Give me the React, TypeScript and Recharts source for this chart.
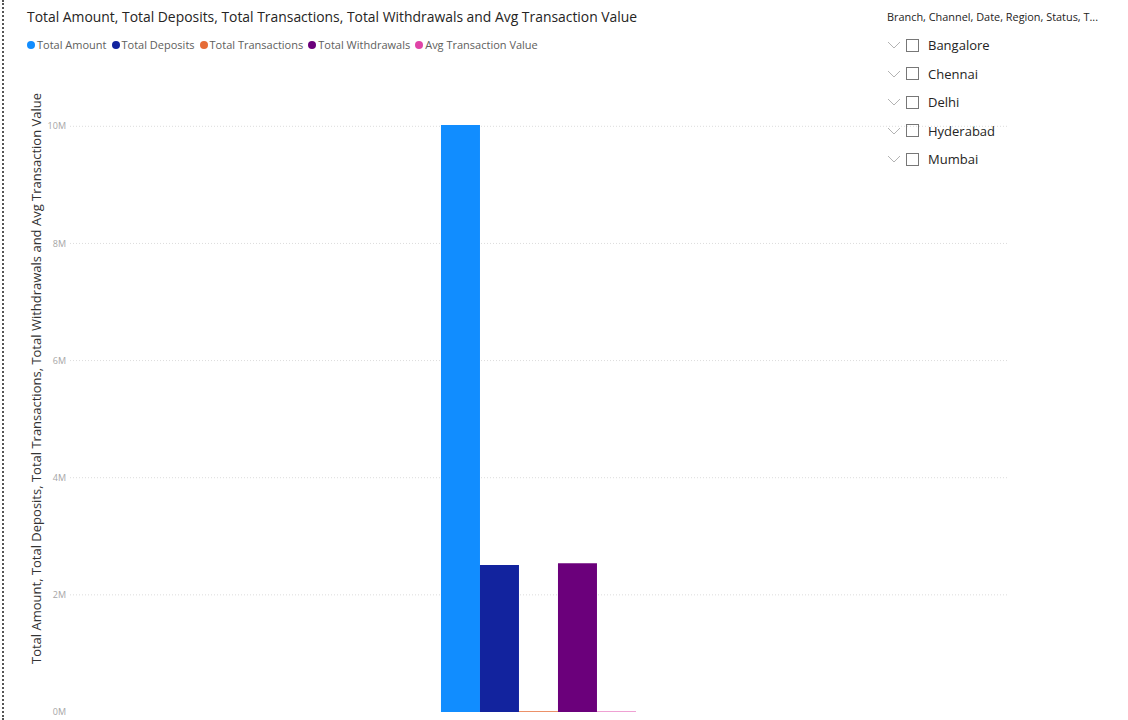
import React from "react";
import { BarChart, Bar, XAxis, YAxis, CartesianGrid } from "recharts";

const categories = [""];
const seriesNames = ["Total Amount", "Total Deposits", "Total Transactions", "Total Withdrawals", "Avg Transaction Value"];
const totalAmount = [10020000];
const totalDeposits = [2510000];
const totalTransactions = [12000];
const totalWithdrawals = [2540000];
const avgTransactionValue = [10000];
const yTicks = [0, 2000000, 4000000, 6000000, 8000000, 10000000];
const slicerItems = ["Bangalore", "Chennai", "Delhi", "Hyderabad", "Mumbai"];
const slicerTitle = "Branch, Channel, Date, Region, Status, T...";
const chartTitle = "Total Amount, Total Deposits, Total Transactions, Total Withdrawals and Avg Transaction Value";

const colors = ["#118DFF", "#12239E", "#E66C37", "#6B007B", "#E044A7"];
const keys = ["amount", "deposits", "transactions", "withdrawals", "avg"];

const data = categories.map((c, i) => ({
  name: c,
  amount: totalAmount[i],
  deposits: totalDeposits[i],
  transactions: totalTransactions[i],
  withdrawals: totalWithdrawals[i],
  avg: avgTransactionValue[i],
}));

const font = "'Segoe UI', 'Open Sans', 'Noto Sans', sans-serif";

export default function App() {
  return (
    <div style={{ position: "absolute", left: 0, top: 0, width: 1128, height: 720, background: "#fff", fontFamily: font, overflow: "hidden" }}>
      <div style={{ position: "absolute", left: 2, top: 0, height: 720, borderLeft: "2px dotted #555" }} />
      <div style={{ position: "absolute", left: 27, top: 7, fontSize: 13.9, color: "#252423", whiteSpace: "nowrap" }}>{chartTitle}</div>
      <div style={{ position: "absolute", left: 27, top: 37, fontSize: 11, color: "#605E5C", whiteSpace: "nowrap", display: "flex", alignItems: "center" }}>
        {seriesNames.map((n, i) => (
          <span key={n} style={{ display: "inline-flex", alignItems: "center", marginRight: 5 }}>
            <span style={{ width: 8, height: 8, borderRadius: 4, background: colors[i], display: "inline-block", marginRight: 2 }} />
            {n}
          </span>
        ))}
      </div>
      <div style={{ position: "absolute", left: 887, top: 9, fontSize: 10.9, color: "#252423", whiteSpace: "nowrap" }}>{slicerTitle}</div>
      {slicerItems.map((s, i) => (
        <div key={s} style={{ position: "absolute", left: 886, top: 35 + i * 28.5, height: 20, display: "flex", alignItems: "center", fontSize: 13, color: "#252423" }}>
          <svg width="16" height="12" style={{ marginRight: 4 }}>
            <polyline points="2,3 8,9 14,3" fill="none" stroke="#b3b3b3" strokeWidth="1" />
          </svg>
          <span style={{ width: 13, height: 13, border: "1px solid #777", display: "inline-block", marginRight: 9, boxSizing: "border-box" }} />
          {s}
        </div>
      ))}
      <div style={{ position: "absolute", left: 0, top: 0 }}>
        <BarChart width={1128} height={720} data={data} margin={{ top: 97, right: 120, bottom: 8, left: 40 }} barCategoryGap="39.55%" barGap={0}>
          <CartesianGrid vertical={false} stroke="#dcdcdc" strokeDasharray="1 2" horizontalValues={yTicks} />
          <XAxis dataKey="name" hide />
          <YAxis
            width={30}
            domain={[0, 10500000]}
            ticks={yTicks}
            axisLine={false}
            tickLine={false}
            tickSize={0}
            tickMargin={4}
            tickFormatter={(v: number) => `${v / 1000000}M`}
            tick={{ fontSize: 9, fill: "#a6a6a6", fontFamily: font }}
            label={{
              value: chartTitle,
              angle: -90,
              position: "left",
              offset: 4,
              dy: -26,
              style: { fontSize: 13, fill: "#333", fontFamily: font, textAnchor: "middle" },
            }}
          />
          {keys.map((k, i) => (
            <Bar key={k} dataKey={k} name={seriesNames[i]} fill={colors[i]} isAnimationActive={false} />
          ))}
        </BarChart>
      </div>
    </div>
  );
}
